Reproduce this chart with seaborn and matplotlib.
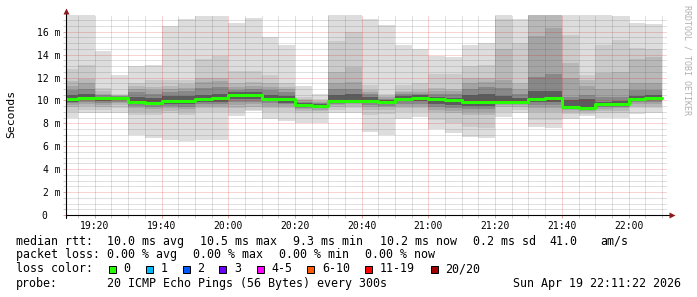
import matplotlib
matplotlib.use("Agg")
import matplotlib.pyplot as plt
import seaborn as sns
import pandas as pd
from matplotlib.patches import Rectangle
from matplotlib.transforms import ScaledTranslation

# ---------------- data ----------------
bin_start = ["19:10", "19:15", "19:20", "19:25", "19:30", "19:35", "19:40", "19:45",
             "19:50", "19:55", "20:00", "20:05", "20:10", "20:15", "20:20", "20:25",
             "20:30", "20:35", "20:40", "20:45", "20:50", "20:55", "21:00", "21:05",
             "21:10", "21:15", "21:20", "21:25", "21:30", "21:35", "21:40", "21:45",
             "21:50", "21:55", "22:00", "22:05"]

median_rtt = [10.1, 10.25, 10.2, 10.2, 9.9, 9.8, 9.98, 9.98, 10.1, 10.2, 10.45, 10.5,
              10.15, 10.1, 9.6, 9.55, 9.98, 9.98, 9.98, 9.9, 10.16, 10.2, 10.1, 10.05,
              9.9, 9.9, 9.9, 9.9, 10.1, 10.2, 9.46, 9.37, 9.67, 9.7, 10.15, 10.2]

smoke1_lo = [8.45, 8.9, 8.88, 8.88, 6.99, 6.7, 6.55, 6.49, 6.55, 6.55, 8.65, 9.1,
             8.36, 8.24, 8.0, 8.0, 8.94, 8.88, 7.28, 6.99, 8.36, 8.59, 7.48, 7.19,
             6.84, 6.7, 8.53, 8.88, 7.7, 7.57, 8.36, 8.6, 8.45, 8.45, 8.8, 8.88]
smoke1_hi = [17.47, 17.47, 14.3, 12.2, 13.0, 13.1, 16.5, 17.1, 17.4, 17.4, 16.8, 17.2,
             15.5, 14.85, 11.27, 10.57, 17.47, 17.47, 17.1, 16.6, 14.85, 14.47, 13.9, 13.77,
             14.85, 15.05, 17.47, 17.1, 17.47, 17.47, 17.47, 17.47, 17.47, 17.4, 16.8, 16.7]

smoke2_lo = [9.0, 9.2, 9.17, 9.3, 8.73, 8.73, 8.88, 8.73, 9.0, 9.0, 9.0, 9.2,
             9.0, 9.0, 8.9, 8.9, 9.2, 9.3, 8.73, 8.8, 9.0, 9.0, 8.3, 8.0,
             7.7, 7.6, 9.0, 9.2, 8.3, 8.3, 8.8, 8.85, 8.9, 8.9, 9.3, 9.3]
smoke2_hi = [12.75, 13.1, 11.06, 10.6, 11.55, 11.8, 11.8, 11.8, 13.6, 13.9, 12.6, 12.6,
             12.2, 11.5, 10.33, 10.1, 15.2, 16.0, 11.35, 10.6, 11.35, 11.55, 12.3, 12.3,
             13.0, 13.1, 17.1, 15.0, 17.47, 17.47, 15.7, 12.2, 14.85, 15.3, 14.55, 14.5]

smoke3_lo = [9.4, 9.5, 9.4, 9.6, 9.0, 9.0, 9.1, 9.0, 9.3, 9.3, 9.3, 9.45,
             9.3, 9.3, 9.1, 9.1, 9.45, 9.5, 9.17, 9.2, 9.3, 9.3, 9.0, 8.9,
             8.7, 8.7, 9.4, 9.45, 9.0, 9.0, 9.0, 9.0, 9.1, 9.1, 9.55, 9.55]
smoke3_hi = [11.7, 11.85, 10.8, 10.5, 11.27, 11.15, 11.27, 11.4, 12.0, 12.0, 11.5, 11.6,
             11.5, 11.2, 10.15, 9.95, 12.5, 12.95, 10.9, 10.4, 10.85, 10.9, 11.05, 11.0,
             12.0, 12.0, 14.5, 11.5, 17.47, 17.47, 13.3, 11.76, 12.4, 12.45, 13.6, 13.8]

smoke4_lo = [9.6, 9.7, 9.6, 9.8, 9.3, 9.25, 9.3, 9.25, 9.5, 9.5, 9.6, 9.65,
             9.55, 9.5, 9.25, 9.2, 9.6, 9.65, 9.4, 9.4, 9.5, 9.5, 9.2, 9.1,
             9.0, 9.0, 9.6, 9.6, 9.3, 9.3, 9.15, 9.1, 9.25, 9.3, 9.7, 9.7]
smoke4_hi = [11.3, 11.5, 10.6, 10.4, 11.0, 10.9, 11.0, 11.1, 11.6, 11.7, 11.2, 11.3,
             11.2, 11.0, 10.0, 9.85, 11.5, 11.6, 10.7, 10.28, 10.7, 10.75, 10.85, 10.8,
             11.5, 11.6, 11.8, 11.0, 15.6, 16.3, 12.0, 11.27, 11.0, 11.0, 11.5, 11.5]

smoke5_lo = [9.75, 9.85, 9.8, 9.9, 9.5, 9.45, 9.5, 9.45, 9.65, 9.7, 9.85, 9.9,
             9.75, 9.65, 9.35, 9.35, 9.7, 9.75, 9.6, 9.55, 9.7, 9.7, 9.4, 9.35,
             9.25, 9.25, 9.7, 9.7, 9.6, 9.6, 9.25, 9.2, 9.4, 9.45, 9.85, 9.85]
smoke5_hi = [10.9, 11.0, 10.45, 10.35, 10.7, 10.6, 10.77, 10.8, 11.1, 11.2, 10.9, 11.0,
             10.9, 10.7, 9.9, 9.8, 11.0, 11.0, 10.55, 10.15, 10.55, 10.6, 10.6, 10.6,
             11.0, 11.2, 11.06, 10.6, 12.07, 12.3, 10.3, 10.5, 10.3, 10.3, 10.9, 10.9]

smoke6_lo = [9.9, 10.0, 9.95, 10.0, 9.7, 9.6, 9.7, 9.65, 9.85, 9.9, 10.1, 10.1,
             9.95, 9.8, 9.5, 9.45, 9.85, 9.85, 9.75, 9.7, 9.95, 9.95, 9.65, 9.6,
             9.55, 9.55, 9.8, 9.8, 9.85, 9.9, 9.35, 9.3, 9.5, 9.55, 10.0, 10.0]
smoke6_hi = [10.5, 10.6, 10.3, 10.25, 10.3, 10.2, 10.35, 10.4, 10.5, 10.6, 10.7, 10.7,
             10.5, 10.35, 9.75, 9.7, 10.48, 10.6, 10.3, 10.05, 10.4, 10.45, 10.3, 10.25,
             10.5, 10.6, 10.4, 10.2, 10.8, 10.8, 10.0, 10.1, 9.9, 9.95, 10.4, 10.45]

smoke_colors = ["#dddddd", "#cbcbcb", "#b8b8b8", "#a4a4a4", "#888888", "#5c5c5c"]

xtick_labels = ["19:20", "19:40", "20:00", "20:20", "20:40", "21:00", "21:20", "21:40", "22:00"]
ytick_vals = [0, 2, 4, 6, 8, 10, 12, 14, 16]
ytick_labels = ["0", "2 m", "4 m", "6 m", "8 m", "10 m", "12 m", "14 m", "16 m"]

loss_labels = ["0", "1", "2", "3", "4-5", "6-10", "11-19", "20/20"]
loss_colors = ["#26ff00", "#00b8ff", "#0059ff", "#6a00ff", "#ff00ff", "#ff5a00", "#ff0000", "#a00000"]

# ---------------- figure ----------------
W, H = 697, 297
sns.set_theme(style="white")
plt.rcParams["font.family"] = ["DejaVu Sans Mono", "DejaVu Sans"]

fig = plt.figure(figsize=(W / 100, H / 100), dpi=100)
fig.patch.set_facecolor("white")
L, R, T, B = 66.0, 666.5, 15.0, 215.0
ax = fig.add_axes([L / W, 1 - B / H, (R - L) / W, (B - T) / H])
ax.set_facecolor("white")


def to_min(s):
    h, m = s.split(":")
    return (int(h) - 19) * 60 + int(m)


starts = [to_min(s) for s in bin_start]
edges = starts + [starts[-1] + 5]


def ext(v):
    return list(v) + [v[-1]]


layers = [(smoke1_lo, smoke1_hi), (smoke2_lo, smoke2_hi), (smoke3_lo, smoke3_hi),
          (smoke4_lo, smoke4_hi), (smoke5_lo, smoke5_hi), (smoke6_lo, smoke6_hi)]
for (lo, hi), col in zip(layers, smoke_colors):
    ax.fill_between(edges, ext(lo), ext(hi), step="post", color=col, lw=0, zorder=1)

df = pd.DataFrame({"t": edges, "rtt": ext(median_rtt)})
sns.lineplot(data=df, x="t", y="rtt", drawstyle="steps-post", color=loss_colors[0],
             lw=2.2, ax=ax, zorder=3, estimator=None)

ax.set_xlim(11 + 22 / 60, 191 + 22 / 60)
ax.set_ylim(0, 17.46)
ax.set_xlabel("")
ax.set_ylabel("")

ax.set_xticks([to_min(s) for s in xtick_labels])
ax.set_xticklabels(xtick_labels)
ax.set_xticks([m for m in range(15, 191, 5) if m % 20 != 0], minor=True)
ax.set_yticks(ytick_vals)
ax.set_yticklabels(ytick_labels)
ax.set_yticks([v / 2 for v in range(1, 35) if v % 4 != 0], minor=True)

ax.set_axisbelow(False)
ax.grid(True, which="major", color="#e00000", alpha=0.35, ls=(0, (1, 1)), lw=0.72)
ax.grid(True, which="minor", color="#505050", alpha=0.35, ls=(0, (1, 1)), lw=0.72)

ax.tick_params(which="both", bottom=True, left=True, top=False, right=False,
               direction="out", width=0.72)
ax.tick_params(which="major", length=2, color="#eaa0a0", labelsize=7,
               labelcolor="black", pad=2)
ax.tick_params(which="minor", length=2, color="#c8c8c8")

# "0" label sits left of the others (monospace padding)
zero_lab = ax.get_yticklabels()[0]
zero_lab.set_transform(zero_lab.get_transform() + ScaledTranslation(-13.3 / 100, 0, fig.dpi_scale_trans))

for sp in ax.spines.values():
    sp.set_visible(False)

ax.plot([0, 1.0075], [0, 0], transform=ax.transAxes, color="black", lw=0.8, clip_on=False, zorder=4)
ax.plot([0, 0], [-0.015, 1.02], transform=ax.transAxes, color="black", lw=0.8, clip_on=False, zorder=4)
ax.plot([1.0085], [0], marker=">", ms=4.5, color="#8b1a1a", mec="none", transform=ax.transAxes,
        clip_on=False, zorder=5)
ax.plot([0], [1.022], marker="^", ms=4.5, color="#8b1a1a", mec="none", transform=ax.transAxes,
        clip_on=False, zorder=5)


def fx(x):
    return x / W


def fy(y):
    return 1 - y / H


fig.text(fx(11), fy(114), "Seconds", rotation=90, ha="center", va="center", fontsize=8.2, color="black")
fig.text(fx(687.5), fy(5), "RRDTOOL / TOBI OETIKER", rotation=270, ha="center", va="top",
         fontsize=6, color="#b0b0b0")

fs = 8.4
row1 = [(16, "median rtt:"), (107.3, "10.0 ms avg"), (200, "10.5 ms max"), (293.3, "9.3 ms min"),
        (380, "10.2 ms now"), (472.7, "0.2 ms sd"), (549.7, "41.0"), (600, "am/s")]
row2 = [(16, "packet loss:"), (107.3, "0.00 % avg"), (193.3, "0.00 % max"), (279.3, "0.00 % min"),
        (365, "0.00 % now")]
row4 = [(16, "probe:"), (107.3, "20 ICMP Echo Pings (56 Bytes) every 300s"),
        (513.3, "Sun Apr 19 22:11:22 2026")]
for yy, row in [(241.3, row1), (254.7, row2), (283, row4)]:
    for xx, s in row:
        fig.text(fx(xx), fy(yy), s, ha="left", va="center", fontsize=fs, color="black")

fig.text(fx(16), fy(269), "loss color:", ha="left", va="center", fontsize=fs, color="black")
box_x = [108.7, 145.7, 182.7, 219.3, 256.7, 307.3, 365, 430.7]
for bx, lab, col in zip(box_x, loss_labels, loss_colors):
    fig.patches.append(Rectangle((fx(bx), fy(273)), 7 / W, 7.5 / H, transform=fig.transFigure,
                                 facecolor=col, edgecolor="black", lw=0.72))
    fig.text(fx(bx + 14.5), fy(269), lab, ha="left", va="center", fontsize=fs, color="black")

fig.savefig("out.png", dpi=100, facecolor="white")
